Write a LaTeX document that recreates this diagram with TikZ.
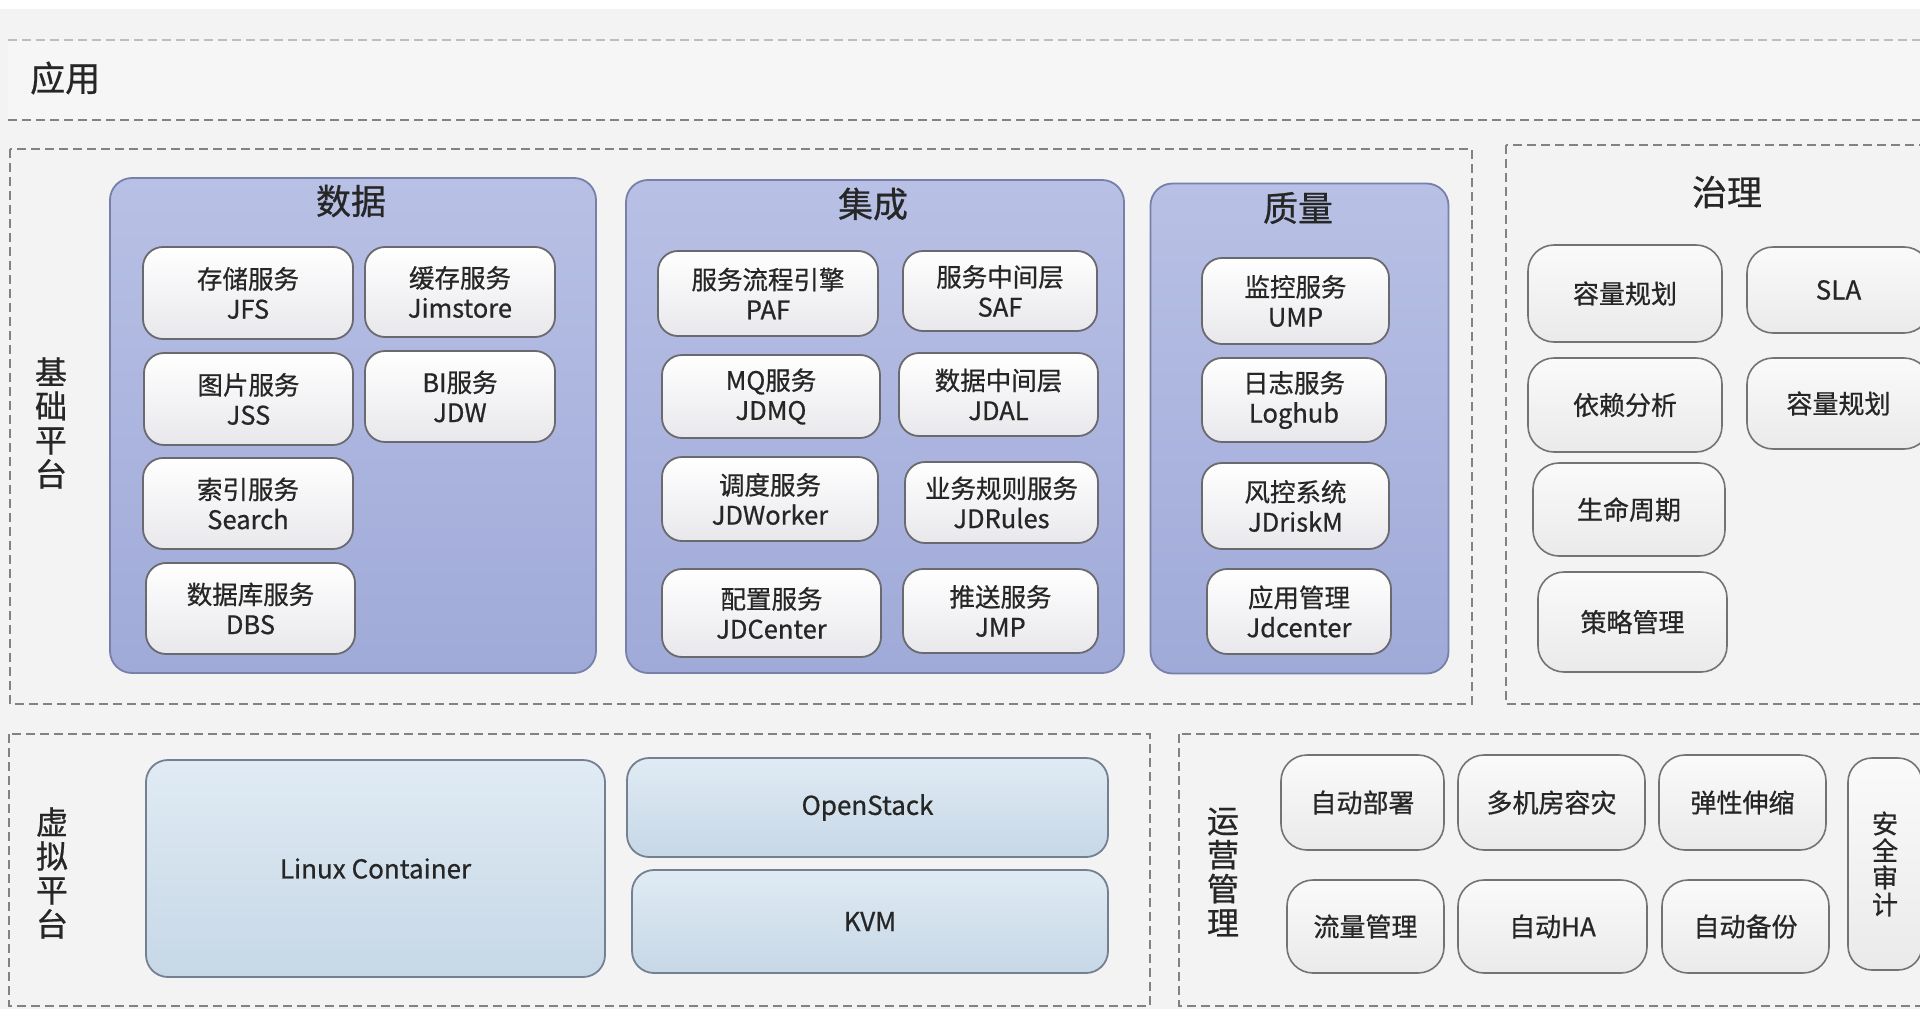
\documentclass[tikz,border=0pt]{standalone}
\usepackage{fontspec}
\setmainfont{Noto Sans CJK SC}[FakeBold=0.7]
\definecolor{bg}{RGB}{243,243,243}
\definecolor{dashgray}{RGB}{130,130,130}
\definecolor{panelborder}{RGB}{118,128,168}
\definecolor{paneltop}{RGB}{184,192,229}
\definecolor{panelbot}{RGB}{160,170,216}
\definecolor{itemborder}{RGB}{105,105,110}
\definecolor{itembot}{RGB}{232,232,236}
\definecolor{lbtop}{RGB}{224,235,244}
\definecolor{lbbot}{RGB}{198,215,230}
\definecolor{lbborder}{RGB}{115,128,145}
\definecolor{gitop}{RGB}{250,250,250}
\definecolor{gibot}{RGB}{234,234,234}
\definecolor{giborder}{RGB}{115,115,115}
\definecolor{txt}{RGB}{38,38,38}
\begin{document}
\begin{tikzpicture}[x=1pt,y=-1pt,
  dashbox/.style={draw=dashgray, line width=1.4pt, dash pattern=on 9pt off 5pt},
  panel/.style={draw=panelborder, line width=1.8pt, rounded corners=22pt, top color=paneltop, bottom color=panelbot, inner sep=0pt},
  item/.style={draw=itemborder, line width=1.8pt, rounded corners=20pt, top color=white, bottom color=itembot, align=center, font=\fontsize{25.5}{30}\selectfont, text=txt, inner sep=0pt},
  lbox/.style={draw=lbborder, line width=1.8pt, rounded corners=22pt, top color=lbtop, bottom color=lbbot, align=center, font=\fontsize{26}{30}\selectfont, text=txt, inner sep=0pt},
  gitem/.style={draw=giborder, line width=1.6pt, rounded corners=26pt, top color=gitop, bottom color=gibot, align=center, font=\fontsize{26}{30}\selectfont, text=txt, inner sep=0pt},
  ttl/.style={font=\fontsize{35}{36}\selectfont, text=txt, inner sep=0pt},
  vlabel/.style={font=\fontsize{32}{34}\selectfont, text=txt, align=center, inner sep=0pt},
]
\clip (0,0) rectangle (1920,1009);
\useasboundingbox (0,0) rectangle (1920,1009);
\fill[bg] (0,0) rectangle (1920,1009);
\fill[white] (0,0) rectangle (1920,9);

% application band
\fill[color={rgb,255:red,246;green,246;blue,246}] (8,40) rectangle (1920,120);
\draw[dashbox, draw={rgb,255:red,190;green,190;blue,190}] (8,40) -- (1920,40);
\draw[dashbox] (8,120) -- (1920,120);
\node[ttl, anchor=west] (app) at (30,78) {应用};

% base platform
\draw[dashbox] (10,149) rectangle (1472,704);
\node[vlabel] (jc) at (51,423) {基\\础\\平\\台};

% data panel
\node[panel, minimum width=486pt, minimum height=495pt] (data) at (353,425.5) {};
\node[ttl] (datat) at (351,201) {数据};
\node[item, minimum width=210pt, minimum height=92pt] (jfs) at (248,293) {存储服务\\JFS};
\node[item, minimum width=190pt, minimum height=90pt] (jim) at (460,292) {缓存服务\\Jimstore};
\node[item, minimum width=209pt, minimum height=92pt] (jss) at (248.5,399) {图片服务\\JSS};
\node[item, minimum width=190pt, minimum height=91pt] (jdw) at (460,396.5) {BI服务\\JDW};
\node[item, minimum width=210pt, minimum height=91pt] (search) at (248,503.5) {索引服务\\Search};
\node[item, minimum width=209pt, minimum height=91pt] (dbs) at (250.5,608.5) {数据库服务\\DBS};

% integration panel
\node[panel, minimum width=498pt, minimum height=493pt] (integ) at (875,426.5) {};
\node[ttl] (integt) at (873,204) {集成};
\node[item, minimum width=220pt, minimum height=85pt] (paf) at (768,293.5) {服务流程引擎\\PAF};
\node[item, minimum width=194pt, minimum height=80pt] (saf) at (1000,291) {服务中间层\\SAF};
\node[item, minimum width=218pt, minimum height=83pt] (jdmq) at (771,396.5) {MQ服务\\JDMQ};
\node[item, minimum width=199pt, minimum height=83pt] (jdal) at (998.5,394.5) {数据中间层\\JDAL};
\node[item, minimum width=216pt, minimum height=84pt] (jdw2) at (770,499) {调度服务\\JDWorker};
\node[item, minimum width=193pt, minimum height=81pt] (jdr) at (1001.5,502.5) {业务规则服务\\JDRules};
\node[item, minimum width=219pt, minimum height=88pt] (jdc) at (771.5,613) {配置服务\\JDCenter};
\node[item, minimum width=195pt, minimum height=84pt] (jmp) at (1000.5,611) {推送服务\\JMP};

% quality panel
\node[panel, minimum width=298pt, minimum height=490pt] (qual) at (1299.5,428.5) {};
\node[ttl] (qualt) at (1298,208) {质量};
\node[item, minimum width=187pt, minimum height=86pt] (ump) at (1295.5,301) {监控服务\\UMP};
\node[item, minimum width=184pt, minimum height=84pt] (log) at (1294,400) {日志服务\\Loghub};
\node[item, minimum width=187pt, minimum height=86pt] (risk) at (1295.5,506) {风控系统\\JDriskM};
\node[item, minimum width=184pt, minimum height=85pt] (appm) at (1299,611.5) {应用管理\\Jdcenter};

% governance
\draw[dashbox] (1506,145) rectangle (1935,704);
\node[ttl] (govt) at (1727,192) {治理};
\node[gitem, minimum width=194pt, minimum height=97pt] (cap1) at (1625,293.5) {容量规划};
\node[gitem, minimum width=183pt, minimum height=86pt] (sla) at (1838.5,290) {SLA};
\node[gitem, minimum width=194pt, minimum height=94pt] (dep) at (1625,405) {依赖分析};
\node[gitem, minimum width=183pt, minimum height=91pt] (cap2) at (1838.5,403.5) {容量规划};
\node[gitem, minimum width=192pt, minimum height=93pt] (life) at (1629,509.5) {生命周期};
\node[gitem, minimum width=189pt, minimum height=100pt] (pol) at (1632.5,622) {策略管理};

% virtual platform
\draw[dashbox] (9,734) rectangle (1150,1006);
\node[vlabel] (xn) at (52,873) {虚\\拟\\平\\台};
\node[lbox, minimum width=459pt, minimum height=217pt] (lxc) at (375.5,868.5) {Linux Container};
\node[lbox, minimum width=481pt, minimum height=99pt] (ostack) at (867.5,807.5) {OpenStack};
\node[lbox, minimum width=476pt, minimum height=103pt] (kvm) at (870,921.5) {KVM};

% operations
\draw[dashbox] (1179,734) rectangle (1935,1006);
\node[vlabel] (yy) at (1223,872) {运\\营\\管\\理};
\node[gitem, minimum width=163pt, minimum height=95pt] (deploy) at (1362.5,802.5) {自动部署};
\node[gitem, minimum width=187pt, minimum height=95pt] (dr) at (1551.5,802.5) {多机房容灾};
\node[gitem, minimum width=167pt, minimum height=95pt] (elastic) at (1742.5,802.5) {弹性伸缩};
\node[gitem, minimum width=157pt, minimum height=93pt] (flow) at (1365.5,926.5) {流量管理};
\node[gitem, minimum width=189pt, minimum height=93pt] (ha) at (1552.5,926.5) {自动HA};
\node[gitem, minimum width=167pt, minimum height=93pt] (backup) at (1745.5,926.5) {自动备份};
\node[gitem, minimum width=74pt, minimum height=212pt, rounded corners=24pt, font=\fontsize{26}{27}\selectfont] (audit) at (1885,864) {安\\全\\审\\计};
\end{tikzpicture}
\end{document}
